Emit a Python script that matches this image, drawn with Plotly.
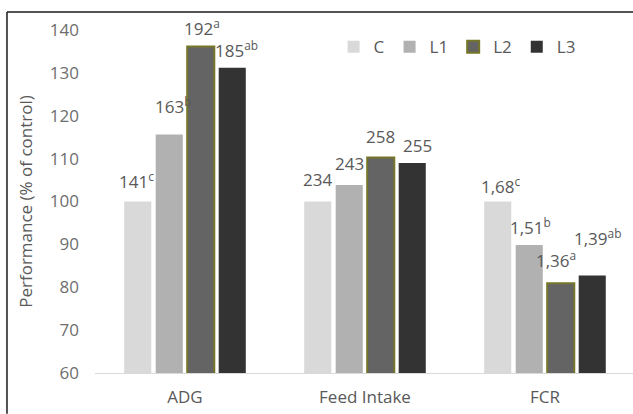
import plotly.graph_objects as go

# Growth performance relative to the control group
categories = ["ADG", "Feed Intake", "FCR"]
groups = ["C", "L1", "L2", "L3"]

adg = [141, 163, 192, 185]
feed_intake = [234, 243, 258, 255]
fcr = [1.68, 1.51, 1.36, 1.39]

adg_letters = ["c", "b", "a", "ab"]
feed_intake_letters = ["", "", "", ""]
fcr_letters = ["c", "b", "a", "ab"]

raw = [adg, feed_intake, fcr]
letters = [adg_letters, feed_intake_letters, fcr_letters]
decimals = [0, 0, 2]

# styling
fill_colors = ["#d9d9d9", "#b1b1b1", "#646464", "#333333"]
edge_colors = ["#d9d9d9", "#b1b1b1", "#76762a", "#333333"]
edge_widths = [0, 0, 2, 0]
text_gray = "#595959"
font_family = "Open Sans, Noto Sans, sans-serif"
fs = 17

# label placement tweaks (pixels): gap above bar top, horizontal nudge
label_gap = [[13, 21, 10, 10], [15, 14, 14, 10], [8, 10, 15, 30]]
label_dx = [[-1, 4, 1.5, 4], [0, 0, 0, 5], [3, 1, -5, 5]]

bargap = 0.30
slot = (1 - bargap) / len(groups)


def pct_of_control(values):
    return [v / values[0] * 100 for v in values]


pct = [pct_of_control(r) for r in raw]

fig = go.Figure()
for j, g in enumerate(groups):
    fig.add_trace(go.Bar(
        x=categories,
        y=[pct[k][j] for k in range(len(categories))],
        name=g,
        marker=dict(color=fill_colors[j],
                    line=dict(color=edge_colors[j], width=edge_widths[j])),
    ))


def fmt(v, nd):
    if nd == 0:
        return f"{v:.0f}"
    return f"{v:.{nd}f}".replace(".", ",")


annotations = []
for k in range(len(categories)):
    for j in range(len(groups)):
        txt = fmt(raw[k][j], decimals[k])
        if letters[k][j]:
            txt += f"<sup>{letters[k][j]}</sup>"
        annotations.append(dict(
            x=k + (j - 1.5) * slot, y=pct[k][j], xref="x", yref="y",
            text=txt, showarrow=False, yanchor="bottom", xanchor="center",
            yshift=label_gap[k][j] - 6, xshift=label_dx[k][j],
            font=dict(family=font_family, size=fs, color=text_gray),
        ))

fig.update_layout(
    width=633, height=414, autosize=False,
    margin=dict(l=95, r=0, t=30, b=41),
    paper_bgcolor="white", plot_bgcolor="white",
    barmode="group", bargap=bargap, bargroupgap=0.14,
    font=dict(family=font_family, size=fs, color=text_gray),
    showlegend=True,
    legend=dict(orientation="h", x=0.673, xanchor="center", y=0.95, yanchor="middle",
                font=dict(family=font_family, size=fs, color=text_gray),
                bgcolor="rgba(0,0,0,0)", itemwidth=30, tracegroupgap=0),
    xaxis=dict(type="category", range=[-0.5, 2.489], showline=True,
               linecolor="#d9d9d9", linewidth=1, ticks="", showgrid=False,
               ticklabelstandoff=9,
               tickfont=dict(family=font_family, size=fs, color=text_gray)),
    yaxis=dict(range=[60, 140], dtick=10, tick0=60, showgrid=False, zeroline=False,
               showline=False, ticks="", ticklabelstandoff=15,
               tickfont=dict(family=font_family, size=fs, color="#6e6e6e"),
               title=dict(text="Performance (% of control)", standoff=12,
                          font=dict(family=font_family, size=fs, color=text_gray)),
               automargin=False),
    annotations=annotations,
    shapes=[
        # frame around the figure panel (top and left edges)
        dict(type="line", xref="paper", yref="paper", x0=-0.1636, x1=1.0,
             y0=1.0525, y1=1.0525, line=dict(color="#1a1a1a", width=1.5)),
        dict(type="line", xref="paper", yref="paper", x0=-0.1636, x1=-0.1636,
             y0=1.0525, y1=-0.119, line=dict(color="#1a1a1a", width=1.5)),
    ],
)

fig.write_html("out.html", config={"displayModeBar": False})
